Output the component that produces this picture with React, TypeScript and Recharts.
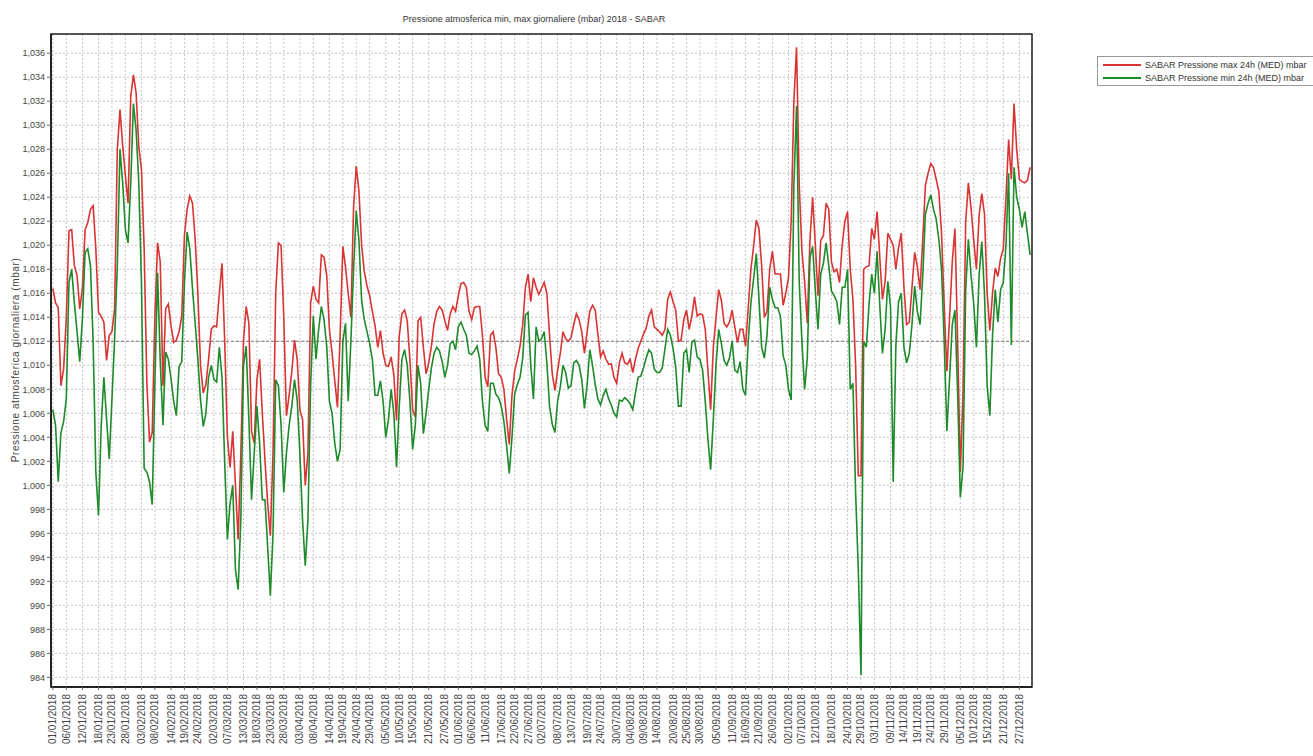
import { LineChart, Line, XAxis, YAxis, CartesianGrid, ReferenceLine, ReferenceArea } from "recharts"

// daily max pressure (mbar), 01/01/2018 .. 31/12/2018
const maxPressure = [
  1016.4, 1015.2, 1014.8, 1008.3, 1009.7, 1014.0, 1021.2, 1021.3, 1018.3, 1017.5,
  1014.7, 1016.4, 1021.3, 1021.9, 1023.0, 1023.3, 1019.7, 1014.4, 1014.1, 1013.6,
  1010.4, 1012.5, 1012.8, 1014.7, 1028.0, 1031.3, 1028.3, 1025.8, 1023.5, 1032.4,
  1034.2, 1032.7, 1028.2, 1026.3, 1019.7, 1008.6, 1003.6, 1004.4, 1014.1, 1020.2,
  1018.6, 1008.3, 1014.7, 1015.1, 1013.3, 1011.9, 1012.1, 1012.8, 1014.1, 1020.8,
  1023.0, 1024.1, 1023.5, 1020.5, 1016.0, 1010.0, 1007.7, 1008.4, 1010.5, 1013.0,
  1013.3, 1013.2, 1016.0, 1018.5, 1012.0, 1004.0, 1001.5, 1004.5, 1000.0, 995.5,
  1002.5, 1012.0, 1014.9, 1013.5, 1004.5, 1003.5, 1008.8, 1010.5, 1006.0, 1002.1,
  998.5, 995.8, 1002.7, 1016.0, 1020.2, 1020.0, 1014.0, 1005.8, 1007.5, 1009.5,
  1012.1, 1010.5, 1006.3, 1005.5, 1000.0, 1002.7, 1015.2, 1016.6, 1015.5, 1015.2,
  1019.2, 1019.0, 1017.5, 1013.0, 1011.0, 1008.7, 1006.5, 1012.5, 1019.9, 1018.2,
  1016.0, 1014.0, 1023.2, 1026.6, 1024.5, 1020.0, 1017.8, 1016.6, 1015.8, 1014.5,
  1013.3, 1011.5, 1012.9, 1011.0, 1010.0, 1009.9, 1010.7, 1009.2, 1005.4, 1012.4,
  1014.3, 1014.6, 1013.7, 1010.4, 1006.3, 1005.7, 1013.7, 1014.0, 1011.5, 1009.3,
  1010.2, 1011.6, 1013.5, 1014.5, 1014.9, 1014.6, 1013.7, 1012.9, 1014.3, 1014.9,
  1014.5, 1015.8, 1016.8, 1016.9, 1016.5, 1014.5, 1013.8, 1014.8, 1014.9, 1014.9,
  1012.5, 1009.0, 1008.2, 1012.5, 1012.8, 1011.5, 1009.3, 1009.0, 1008.0, 1005.5,
  1003.4, 1007.5, 1009.5, 1010.5, 1011.6, 1013.4, 1016.5, 1017.6, 1015.3, 1017.3,
  1016.5, 1015.9, 1016.4, 1016.9, 1016.0, 1012.5, 1009.3, 1007.9, 1009.6, 1011.0,
  1012.8, 1012.2, 1012.0, 1012.3, 1013.4, 1014.3, 1013.8, 1012.8, 1011.0, 1012.8,
  1014.5, 1015.0, 1014.6, 1012.6, 1010.7, 1011.2, 1010.5, 1010.1, 1010.1, 1009.0,
  1008.5, 1010.2, 1011.0, 1010.2, 1010.1, 1010.5, 1009.4, 1010.5, 1011.4, 1012.0,
  1012.6, 1013.1, 1014.1, 1014.6, 1013.2, 1013.0, 1012.8, 1012.5, 1013.0, 1015.5,
  1016.1, 1015.3, 1014.6, 1012.0, 1012.1, 1013.8, 1014.6, 1013.0, 1014.1, 1015.7,
  1014.1, 1014.3, 1014.2, 1013.0, 1009.5, 1006.3, 1011.5, 1014.0, 1016.3, 1015.4,
  1013.5, 1013.2, 1013.6, 1014.6, 1013.2, 1011.9, 1013.0, 1013.0, 1011.6, 1014.8,
  1018.0, 1019.9, 1022.1, 1021.4, 1018.3, 1014.0, 1014.5, 1018.0, 1019.5, 1017.6,
  1017.6, 1017.6, 1015.0, 1016.0, 1017.3, 1022.0, 1032.0, 1036.5, 1025.0, 1019.5,
  1017.0, 1013.5, 1020.5, 1024.0, 1020.0, 1015.8, 1020.4, 1020.8, 1023.5, 1023.0,
  1018.6, 1017.8, 1018.0, 1016.9, 1020.0, 1022.0, 1022.8, 1018.0, 1015.5, 1010.0,
  1000.8, 1000.8, 1018.0, 1018.2, 1018.3, 1021.4, 1020.5, 1022.8, 1019.0, 1015.5,
  1017.0, 1021.0, 1020.5, 1020.0, 1018.0, 1019.8, 1021.0, 1016.5, 1013.4, 1013.6,
  1016.5, 1019.4, 1018.2, 1016.3, 1020.5, 1025.0, 1026.0, 1026.8, 1026.5, 1025.5,
  1024.5, 1021.0, 1015.0, 1009.5, 1014.0, 1018.6, 1021.4, 1012.0, 1001.1, 1007.7,
  1022.0, 1025.2, 1023.1, 1020.4, 1018.0, 1022.5, 1024.3, 1022.6, 1016.0, 1012.9,
  1016.0, 1018.1, 1017.4, 1018.9, 1019.7, 1024.0, 1028.8, 1025.5, 1031.8, 1028.0,
  1025.5, 1025.3, 1025.2, 1025.4, 1026.5,
]

// daily min pressure (mbar)
const minPressure = [
  1006.3, 1005.0, 1000.3, 1004.4, 1005.3, 1007.2, 1016.9, 1018.0, 1015.2, 1012.8,
  1010.3, 1013.9, 1019.4, 1019.7, 1018.3, 1011.9, 1001.1, 997.5, 1005.0, 1009.0,
  1005.5, 1002.2, 1007.2, 1012.2, 1018.3, 1028.0, 1025.2, 1021.3, 1020.2, 1025.2,
  1031.8, 1029.6, 1025.2, 1016.9, 1001.4, 1001.1, 1000.3, 998.4, 1008.6, 1017.7,
  1010.3, 1005.0, 1011.1, 1010.5, 1008.9, 1007.0, 1005.8, 1009.9, 1010.3, 1016.9,
  1021.1, 1019.7, 1016.4, 1013.5, 1010.5, 1007.1, 1004.9, 1006.0, 1009.0, 1010.0,
  1008.8, 1008.6, 1011.5, 1009.0, 1001.9, 995.5, 998.5, 1000.0, 993.0, 991.3,
  997.1, 1010.0, 1011.6, 1005.5, 998.8, 1002.7, 1006.6, 1003.5, 998.8, 998.8,
  994.9, 990.8, 996.0, 1008.8, 1008.3, 1005.0, 999.4, 1002.7, 1005.0, 1006.6,
  1008.8, 1007.1, 1002.7, 997.1, 993.3, 997.1, 1008.3, 1014.1, 1010.5, 1013.0,
  1014.9, 1013.8, 1011.6, 1007.0, 1006.0, 1003.5, 1002.0, 1003.0, 1012.0, 1013.5,
  1007.0, 1012.0, 1018.0, 1022.9, 1020.4, 1015.4, 1013.8, 1012.8, 1011.8, 1010.5,
  1007.5, 1007.5, 1008.7, 1007.0, 1004.0, 1005.5, 1008.0, 1006.0, 1001.5, 1006.5,
  1010.5, 1011.3, 1010.0, 1007.0, 1003.0, 1005.0, 1010.0, 1008.5, 1004.3, 1006.0,
  1008.0, 1009.8, 1011.0, 1011.5, 1011.2, 1010.3, 1009.0, 1010.0, 1011.8, 1012.0,
  1011.3, 1013.2, 1013.6, 1013.0, 1012.5, 1011.0, 1010.9, 1011.2, 1011.6, 1010.5,
  1007.0, 1005.0, 1004.5, 1008.5, 1008.5, 1007.6, 1007.3, 1006.6, 1005.3, 1003.3,
  1001.0, 1004.0, 1007.6, 1008.4, 1009.0, 1010.6, 1014.2, 1014.4, 1010.0, 1007.2,
  1013.2, 1012.0, 1012.2, 1012.8, 1010.2, 1006.6, 1005.1, 1004.4, 1007.0, 1008.2,
  1010.0, 1009.4, 1008.1, 1008.3, 1010.2, 1010.4, 1010.0, 1008.8, 1006.4, 1008.4,
  1011.3, 1010.0, 1008.4, 1007.2, 1006.7, 1007.5, 1008.0, 1007.2, 1006.7, 1006.0,
  1005.7, 1007.1, 1007.0, 1007.3, 1007.1, 1006.8, 1006.3, 1007.7, 1009.0, 1009.1,
  1009.8, 1010.6, 1011.3, 1011.0, 1009.7, 1009.4, 1009.4, 1009.8, 1011.4, 1013.0,
  1012.5, 1011.4, 1009.8, 1006.6, 1006.6, 1011.0, 1011.3, 1009.4, 1011.9, 1012.1,
  1010.7, 1010.5, 1009.6, 1007.0, 1003.8, 1001.3, 1005.5, 1010.0, 1013.0, 1011.8,
  1010.4, 1010.0, 1010.6, 1012.0, 1009.6, 1009.4, 1010.3, 1008.0, 1007.5, 1012.0,
  1015.2, 1017.2, 1019.3, 1015.5, 1011.5, 1010.6, 1012.5, 1016.5, 1015.5, 1014.8,
  1014.8, 1014.1, 1010.8, 1010.0, 1008.0, 1007.1, 1025.0, 1031.6, 1016.9, 1012.0,
  1008.0, 1010.6, 1019.0, 1019.9, 1016.2, 1013.0, 1017.6, 1018.5, 1020.2, 1018.3,
  1016.2, 1015.8, 1015.3, 1013.4, 1016.5, 1016.5, 1018.0, 1008.0, 1008.5, 999.4,
  993.0, 984.2, 1012.0, 1011.5, 1015.1, 1017.6, 1016.0, 1019.5, 1015.0, 1011.0,
  1013.0, 1017.0, 1014.9, 1000.3, 1011.7, 1015.3, 1016.0, 1011.5, 1010.2, 1011.0,
  1013.4, 1016.6, 1014.5, 1013.4, 1017.4, 1022.6, 1023.5, 1024.2, 1023.0, 1022.2,
  1020.5, 1018.0, 1012.0, 1004.5, 1008.9, 1013.4, 1014.6, 1007.7, 999.0, 1001.5,
  1016.3, 1020.5, 1017.5, 1015.1, 1011.5, 1017.5, 1020.3, 1016.0, 1008.3, 1005.8,
  1012.5, 1016.3, 1013.6, 1016.3, 1016.9, 1020.0, 1026.0, 1011.7, 1026.5, 1024.0,
  1023.0, 1021.5, 1022.8, 1021.0, 1019.2,
]

const tickLabels = [
  "01/01/2018", "06/01/2018", "12/01/2018", "18/01/2018", "23/01/2018", "28/01/2018",
  "03/02/2018", "08/02/2018", "14/02/2018", "19/02/2018", "24/02/2018", "02/03/2018",
  "07/03/2018", "13/03/2018", "18/03/2018", "23/03/2018", "28/03/2018", "03/04/2018",
  "08/04/2018", "14/04/2018", "19/04/2018", "24/04/2018", "29/04/2018", "05/05/2018",
  "10/05/2018", "15/05/2018", "21/05/2018", "27/05/2018", "01/06/2018", "06/06/2018",
  "11/06/2018", "17/06/2018", "22/06/2018", "27/06/2018", "02/07/2018", "08/07/2018",
  "13/07/2018", "19/07/2018", "24/07/2018", "30/07/2018", "04/08/2018", "09/08/2018",
  "14/08/2018", "20/08/2018", "25/08/2018", "30/08/2018", "05/09/2018", "11/09/2018",
  "16/09/2018", "21/09/2018", "26/09/2018", "02/10/2018", "07/10/2018", "12/10/2018",
  "18/10/2018", "24/10/2018", "29/10/2018", "03/11/2018", "09/11/2018", "14/11/2018",
  "19/11/2018", "24/11/2018", "29/11/2018", "05/12/2018", "10/12/2018", "15/12/2018",
  "21/12/2018", "27/12/2018",
]

const yTicks = [
  984, 986, 988, 990, 992, 994, 996, 998, 1000, 1002, 1004, 1006, 1008, 1010,
  1012, 1014, 1016, 1018, 1020, 1022, 1024, 1026, 1028, 1030, 1032, 1034, 1036,
]

const dayOfYear = (s: string) => {
  const [d, m, y] = s.split("/").map(Number)
  return Math.round((Date.UTC(y, m - 1, d) - Date.UTC(y, 0, 1)) / 86400000)
}

const rows = maxPressure.map((v, i) => ({ day: i, max: v, min: minPressure[i] }))
const tickDays = tickLabels.map(dayOfYear)
const labelOf = new Map(tickDays.map((d, i) => [d, tickLabels[i]]))

const X_DOMAIN: [number, number] = [-0.7, 364.7]
const Y_DOMAIN: [number, number] = [983.2, 1037.6]

const RED = "#d83434"
const GREEN = "#1e8a2a"

function DateTick(props: any) {
  const { x, y, payload } = props
  return (
    <text
      x={x}
      y={y + 2}
      transform={`rotate(-90 ${x} ${y + 2})`}
      textAnchor="end"
      dy="0.35em"
      fontSize={10}
      fill="#444"
    >
      {labelOf.get(payload.value)}
    </text>
  )
}

export default function App() {
  return (
    <div
      style={{
        position: "absolute",
        left: 0,
        top: 0,
        width: 1313,
        height: 756,
        overflow: "hidden",
        background: "#fff",
        fontFamily: "'Liberation Sans', Arial, sans-serif",
      }}
    >
      <div
        style={{
          position: "absolute",
          top: 14,
          left: 0,
          width: 1068,
          textAlign: "center",
          fontSize: 9,
          color: "#333",
        }}
      >
        Pressione atmosferica min, max giornaliere (mbar) 2018 - SABAR
      </div>

      <div
        style={{
          position: "absolute",
          left: 15,
          top: 360,
          transform: "translate(-50%, -50%) rotate(-90deg)",
          whiteSpace: "nowrap",
          fontSize: 10,
          letterSpacing: 0.6,
          color: "#444",
        }}
      >
        Pressione atmosferica giornaliera (mbar)
      </div>

      <div
        style={{
          position: "absolute",
          left: 1097,
          top: 56,
          width: 230,
          height: 28,
          border: "1px solid #999",
          fontSize: 9,
          color: "#333",
        }}
      >
        {[
          { c: RED, t: "SABAR Pressione max 24h (MED) mbar" },
          { c: GREEN, t: "SABAR Pressione min 24h (MED) mbar" },
        ].map((r) => (
          <div key={r.t} style={{ display: "flex", alignItems: "center", height: 11, marginTop: 2 }}>
            <span style={{ width: 38, height: 2, background: r.c, margin: "0 4px 0 5px" }} />
            <span>{r.t}</span>
          </div>
        ))}
      </div>

      <LineChart width={1313} height={756} data={rows} margin={{ top: 34, right: 281, bottom: 0, left: 4 }}>
        <CartesianGrid stroke="#c4c4c4" strokeDasharray="2 2" />
        <XAxis
          type="number"
          dataKey="day"
          domain={X_DOMAIN}
          allowDataOverflow
          ticks={tickDays}
          interval={0}
          height={69}
          tick={<DateTick />}
          tickSize={3}
          tickLine={{ stroke: "#666" }}
          axisLine={{ stroke: "#222", strokeWidth: 2 }}
        />
        <YAxis
          type="number"
          domain={Y_DOMAIN}
          allowDataOverflow
          ticks={yTicks}
          interval={0}
          width={47}
          tickFormatter={(v: number) => v.toLocaleString("en-US")}
          tick={{ fontSize: 9, fill: "#444" }}
          tickLine={{ stroke: "#666" }}
          tickSize={4}
          axisLine={{ stroke: "#222", strokeWidth: 2 }}
        />
        <ReferenceLine y={1012} stroke="#777" strokeDasharray="3 2" />
        <ReferenceArea
          x1={X_DOMAIN[0]}
          x2={X_DOMAIN[1]}
          y1={Y_DOMAIN[0]}
          y2={Y_DOMAIN[1]}
          fill="none"
          stroke="#222"
          strokeWidth={1.5}
        />
        <Line
          type="linear"
          dataKey="max"
          stroke={RED}
          strokeWidth={1.6}
          dot={false}
          isAnimationActive={false}
        />
        <Line
          type="linear"
          dataKey="min"
          stroke={GREEN}
          strokeWidth={1.6}
          dot={false}
          isAnimationActive={false}
        />
      </LineChart>
    </div>
  )
}
